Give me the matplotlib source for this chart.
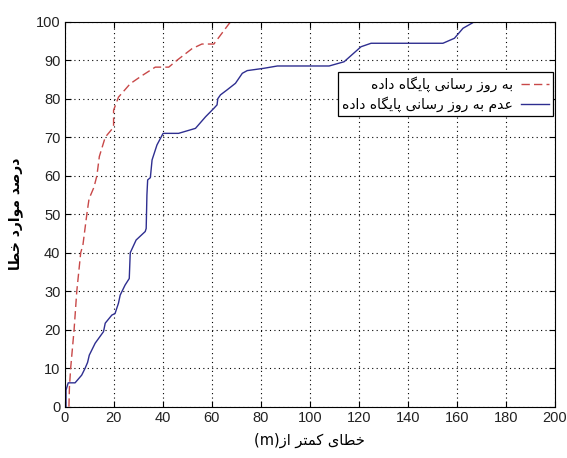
import matplotlib
matplotlib.use("Agg")
import matplotlib.pyplot as plt

# cumulative error distribution, database updated vs. not updated
updated_x = [1.8, 2.0, 2.5, 3.9, 5.0, 6.6, 7.5, 9.1, 10.0, 12.0, 13.2, 14.2, 16.6, 20.0,
             20.0, 22.0, 26.8, 31.6, 37.0, 42.5, 45.9, 52.0, 56.0, 60.9, 67.7]
updated_y = [0, 5, 10, 20, 30, 40, 42, 50, 54, 57, 60, 65, 70, 72.6,
             77, 80.4, 83.9, 86, 88.2, 88.2, 90, 93, 94.2, 94.2, 100]

not_updated_x = [0.6, 0.6, 1.5, 4.3, 7.0, 8.4, 9.4, 10.1, 12.5, 15.9, 16.6, 19.3, 20.6, 22.0,
                 22.7, 24.7, 26.4, 26.8, 29.2, 32.9, 33.3, 33.6, 33.9, 35.0, 35.7, 37.7,
                 40.2, 46.5, 53.4, 57.5, 60.9, 62.2, 62.5, 63.6, 66.3, 69.7, 72.5, 74.5,
                 81.3, 86.8, 107.9, 114.0, 120.9, 125.0, 154.3, 159.0, 162.5, 167.2]
not_updated_y = [0, 4.3, 6.2, 6.2, 8.2, 10, 11.5, 13.4, 16.5, 19.5, 21.7, 23.8, 24.2, 26.9,
                 29, 31.6, 33.3, 40, 43.3, 45.5, 46.3, 55, 58.9, 59.5, 64.1, 68,
                 71, 71, 72.3, 75.3, 77.5, 78.4, 80, 81, 82.3, 84, 86.6, 87.3,
                 87.9, 88.5, 88.5, 89.6, 93.5, 94.4, 94.4, 95.7, 98.3, 100]

label_updated = "به روز رسانی پایگاه داده"
label_not_updated = "عدم به روز رسانی پایگاه داده"
ylabel_text = "درصد موارد خطا"
xlabel_text = "خطای کمتر از"

# contextual forms: isolated, final, initial, medial
FORMS = {
    "ا": ("\uFE8D", "\uFE8E"), "د": ("\uFEA9", "\uFEAA"), "ر": ("\uFEAD", "\uFEAE"),
    "ز": ("\uFEAF", "\uFEB0"), "و": ("\uFEED", "\uFEEE"),
    "ب": ("\uFE8F", "\uFE90", "\uFE91", "\uFE92"), "ت": ("\uFE95", "\uFE96", "\uFE97", "\uFE98"),
    "خ": ("\uFEA5", "\uFEA6", "\uFEA7", "\uFEA8"), "س": ("\uFEB1", "\uFEB2", "\uFEB3", "\uFEB4"),
    "ص": ("\uFEB9", "\uFEBA", "\uFEBB", "\uFEBC"), "ط": ("\uFEC1", "\uFEC2", "\uFEC3", "\uFEC4"),
    "ع": ("\uFEC9", "\uFECA", "\uFECB", "\uFECC"), "م": ("\uFEE1", "\uFEE2", "\uFEE3", "\uFEE4"),
    "ن": ("\uFEE5", "\uFEE6", "\uFEE7", "\uFEE8"), "ه": ("\uFEE9", "\uFEEA", "\uFEEB", "\uFEEC"),
    "پ": ("\uFB56", "\uFB57", "\uFB58", "\uFB59"), "ک": ("\uFB8E", "\uFB8F", "\uFB90", "\uFB91"),
    "گ": ("\uFB92", "\uFB93", "\uFB94", "\uFB95"), "ی": ("\uFBFC", "\uFBFD", "\uFBFE", "\uFBFF"),
}


def shape(text):
    """Join Persian letters and reverse them for left-to-right drawing."""
    out = []
    for i, ch in enumerate(text):
        if ch not in FORMS:
            out.append(ch)
            continue
        prev = text[i - 1] if i > 0 else ""
        nxt = text[i + 1] if i + 1 < len(text) else ""
        join_prev = prev in FORMS and len(FORMS[prev]) == 4
        join_next = nxt in FORMS and len(FORMS[ch]) == 4
        f = FORMS[ch]
        if join_prev and join_next:
            out.append(f[3])
        elif join_prev:
            out.append(f[1])
        elif join_next:
            out.append(f[2])
        else:
            out.append(f[0])
    return "".join(reversed(out))


plt.rcParams["font.family"] = ["Liberation Sans", "DejaVu Sans"]

fig = plt.figure(figsize=(5.67, 4.58), dpi=100)
ax = fig.add_axes([0.1138, 0.112, 0.865, 0.8406])

ax.plot(updated_x, updated_y, color="#c84848", linestyle=(0, (6, 3)), linewidth=1.0,
        label=shape(label_updated))
ax.plot(not_updated_x, not_updated_y, color="#2e2e90", linestyle="-", linewidth=1.0,
        label=shape(label_not_updated))

ax.set_xlim(0, 200)
ax.set_ylim(0, 100)
ax.set_xticks(range(0, 201, 20))
ax.set_yticks(range(0, 101, 10))
ax.tick_params(direction="in", top=True, right=True, labelsize=10.5, length=4, pad=3,
               labelcolor="#222222")
ax.grid(True, color="black", linestyle=(0, (1, 3)), linewidth=0.8)
for sp in ax.spines.values():
    sp.set_linewidth(0.8)

ax.set_xlabel("(m)" + shape(xlabel_text), fontsize=10.5, labelpad=6,
              family=["DejaVu Sans"])
ax.set_ylabel(shape(ylabel_text), fontsize=10, fontweight="bold",
              family=["DejaVu Sans"])
ax.yaxis.set_label_coords(-0.085, 0.5)

leg = ax.legend(loc="upper right", bbox_to_anchor=(0.996, 0.869), markerfirst=False,
                fancybox=False, framealpha=1, edgecolor="black",
                borderpad=0.3, labelspacing=0.3, handlelength=2.0, handletextpad=0.6,
                borderaxespad=0.0, prop={"family": ["DejaVu Sans"], "size": 10})
leg.get_frame().set_linewidth(0.9)

fig.savefig("out.png", dpi=100)
